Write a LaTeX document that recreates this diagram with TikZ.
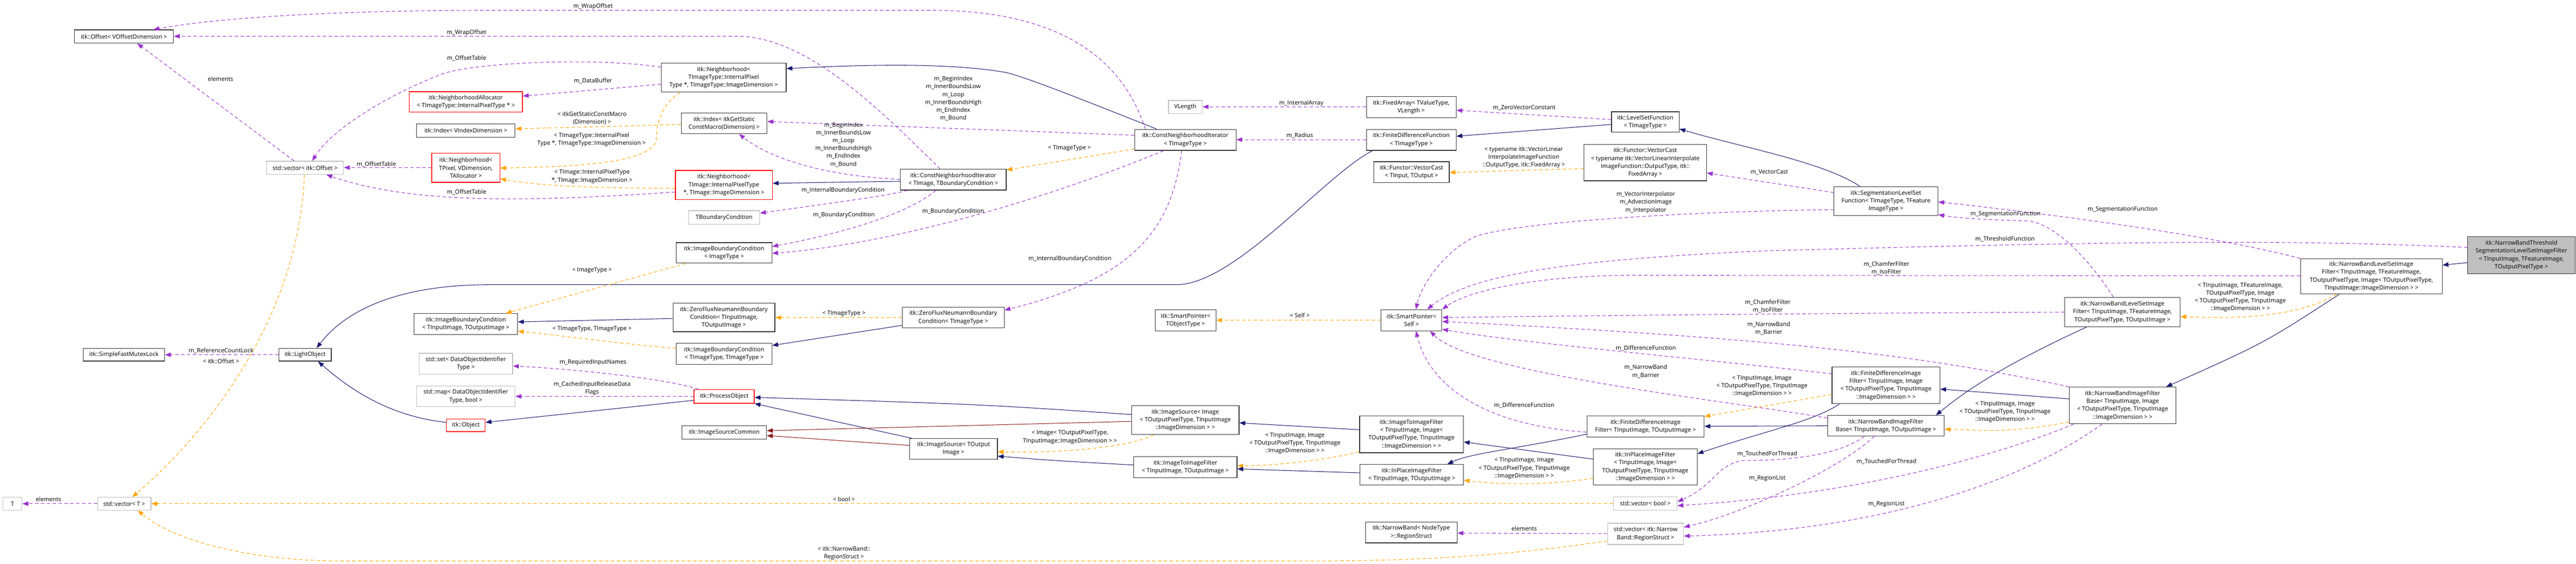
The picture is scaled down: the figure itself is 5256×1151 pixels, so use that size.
\documentclass[tikz,border=0pt]{standalone}
\usepackage{fontspec}
\setmainfont{Open Sans}
\usetikzlibrary{arrows.meta}
\definecolor{navyc}{HTML}{191970}
\definecolor{purp}{HTML}{9A32CD}
\definecolor{orng}{HTML}{FFA500}
\definecolor{dred}{HTML}{8B1A1A}
\newcommand\cb[7]{\node[#1, minimum width={(#4)-(#3)}, minimum height={(#6)-(#5)}] (#2) at ({((#3)+(#4))/2},{((#5)+(#6))/2}) {#7};}
\tikzset{
  cls/.style={draw=black!80, line width=1.3pt, fill=white, inner sep=0pt, align=center, font=\fontsize{12}{16}\selectfont},
  redb/.style={cls, draw=red},
  grayb/.style={cls, draw=black!25},
  mainb/.style={cls, fill=black!25},
  lbl/.style={inner sep=0pt, align=center, font=\fontsize{12}{16}\selectfont},
  tipx/.style={-{Triangle[length=12pt,width=9pt]}},
  inh/.style={draw=navyc, line width=1.1pt, tipx},
  prot/.style={draw=dred, line width=1.1pt, tipx},
  use/.style={draw=purp, line width=1.1pt, dash pattern=on 7pt off 5pt, tipx},
  tpl/.style={draw=orng, line width=1.1pt, dash pattern=on 7pt off 5pt, tipx},
}
\begin{document}
\begin{tikzpicture}[x=1pt,y=-1pt]
\useasboundingbox (0,0) rectangle (5256,1151);
\fill[white] (0,0) rectangle (5256,1151);
% nodes
\cb{grayb}{T}{6}{45}{1015}{1041}{T}
\cb{grayb}{vecT}{199}{308}{1015}{1041}{std::vector< T >}
\cb{cls}{off}{152}{354}{61}{88}{itk::Offset< VOffsetDimension >}
\cb{grayb}{vecoff}{544}{701}{329}{356}{std::vector< itk::Offset >}
\cb{cls}{mutex}{170}{336}{711}{737}{itk::SimpleFastMutexLock}
\cb{cls}{light}{569}{676}{711}{737}{itk::LightObject}
\cb{redb}{alloc}{835}{1066}{187}{229}{itk::NeighborhoodAllocator\\< TImageType::InternalPixelType * >}
\cb{cls}{idxV}{850}{1051}{253}{280}{itk::Index< VIndexDimension >}
\cb{redb}{nbP}{881}{1020}{313}{372}{itk::Neighborhood<\\TPixel, VDimension,\\TAllocator >}
\cb{cls}{ibcIO}{845}{1056}{640}{683}{itk::ImageBoundaryCondition\\< TInputImage, TOutputImage >}
\cb{grayb}{set}{855}{1046}{721}{764}{std::set< DataObjectIdentifier\\Type >}
\cb{grayb}{map}{850}{1051}{788}{830}{std::map< DataObjectIdentifier\\Type, bool >}
\cb{redb}{obj}{911}{990}{855}{881}{itk::Object}
\cb{cls}{nbT}{1349}{1604}{129}{188}{itk::Neighborhood<\\TImageType::InternalPixel\\Type *, TImageType::ImageDimension >}
\cb{cls}{idxS}{1390}{1565}{231}{273}{itk::Index< itkGetStatic\\ConstMacro(Dimension) >}
\cb{redb}{nbI}{1378}{1576}{348}{407}{itk::Neighborhood<\\TImage::InternalPixelType\\*, TImage::ImageDimension >}
\cb{grayb}{tbc}{1405}{1550}{430}{458}{TBoundaryCondition}
\cb{cls}{ibcI}{1380}{1575}{495}{537}{itk::ImageBoundaryCondition\\< ImageType >}
\cb{cls}{zfIO}{1373}{1581}{619}{677}{itk::ZeroFluxNeumannBoundary\\Condition< TInputImage,\\TOutputImage >}
\cb{cls}{ibcTT}{1380}{1575}{701}{744}{itk::ImageBoundaryCondition\\< TImageType, TImageType >}
\cb{redb}{proc}{1416}{1539}{795}{823}{itk::ProcessObject}
\cb{cls}{isc}{1391}{1564}{869}{896}{itk::ImageSourceCommon}
\cb{cls}{cniB}{1837}{2053}{345}{388}{itk::ConstNeighborhoodIterator\\< TImage, TBoundaryCondition >}
\cb{cls}{zfT}{1841}{2049}{627}{669}{itk::ZeroFluxNeumannBoundary\\Condition< TImageType >}
\cb{cls}{isO}{1856}{2035}{895}{937}{itk::ImageSource< TOutput\\Image >}
\cb{grayb}{vlen}{2384}{2453}{205}{232}{VLength}
\cb{cls}{cniT}{2315}{2522}{264}{307}{itk::ConstNeighborhoodIterator\\< TImageType >}
\cb{cls}{spT}{2357}{2481}{632}{675}{itk::SmartPointer<\\TObjectType >}
\cb{cls}{isI}{2309}{2528}{828}{887}{itk::ImageSource< Image\\< TOutputPixelType, TInputImage\\::ImageDimension > >}
\cb{cls}{i2iO}{2313}{2524}{932}{975}{itk::ImageToImageFilter\\< TInputImage, TOutputImage >}
\cb{cls}{fa}{2788}{2971}{197}{240}{itk::FixedArray< TValueType,\\VLength >}
\cb{cls}{fdf}{2788}{2971}{264}{307}{itk::FiniteDifferenceFunction\\< TImageType >}
\cb{cls}{vcT}{2803}{2957}{330}{373}{itk::Functor::VectorCast\\< TInput, TOutput >}
\cb{cls}{spS}{2818}{2942}{632}{675}{itk::SmartPointer<\\Self >}
\cb{cls}{i2iI}{2774}{2986}{849}{924}{itk::ImageToImageFilter\\< TInputImage, Image<\\TOutputPixelType, TInputImage\\::ImageDimension > >}
\cb{cls}{ipO}{2775}{2986}{948}{990}{itk::InPlaceImageFilter\\< TInputImage, TOutputImage >}
\cb{cls}{rs}{2786}{2973}{1065}{1108}{itk::NarrowBand< NodeType\\>::RegionStruct}
\cb{cls}{lsf}{3288}{3426}{228}{270}{itk::LevelSetFunction\\< TImageType >}
\cb{cls}{vcS}{3232}{3482}{295}{369}{itk::Functor::VectorCast\\< typename itk::VectorLinearInterpolate\\ImageFunction::OutputType, itk::\\FixedArray >}
\cb{cls}{fdiO}{3238}{3477}{849}{892}{itk::FiniteDifferenceImage\\Filter< TInputImage, TOutputImage >}
\cb{cls}{ipI}{3251}{3463}{916}{990}{itk::InPlaceImageFilter\\< TInputImage, Image<\\TOutputPixelType, TInputImage\\::ImageDimension > >}
\cb{grayb}{vb}{3292}{3422}{1014}{1041}{std::vector< bool >}
\cb{grayb}{vr}{3280}{3435}{1068}{1111}{std::vector< itk::Narrow\\Band::RegionStruct >}
\cb{cls}{seg}{3742}{3954}{381}{440}{itk::SegmentationLevelSet\\Function< TImageType, TFeature\\ImageType >}
\cb{cls}{fdiI}{3738}{3958}{749}{824}{itk::FiniteDifferenceImage\\Filter< TInputImage, Image\\< TOutputPixelType, TInputImage\\::ImageDimension > >}
\cb{cls}{nbfO}{3729}{3967}{848}{890}{itk::NarrowBandImageFilter\\Base< TInputImage, TOutputImage >}
\cb{cls}{nlO}{4213}{4448}{607}{667}{itk::NarrowBandLevelSetImage\\Filter< TInputImage, TFeatureImage,\\TOutputPixelType, TOutputImage >}
\cb{cls}{nbfI}{4222}{4440}{790}{865}{itk::NarrowBandImageFilter\\Base< TInputImage, Image\\< TOutputPixelType, TInputImage\\::ImageDimension > >}
\cb{cls}{nlI}{4694}{4983}{528}{600}{itk::NarrowBandLevelSetImage\\Filter< TInputImage, TFeatureImage,\\TOutputPixelType, Image< TOutputPixelType,\\TInputImage::ImageDimension > >}
\cb{mainb}{main}{5035}{5254}{483}{559}{itk::NarrowBandThreshold\\SegmentationLevelSetImageFilter\\< TInputImage, TFeatureImage,\\TOutputPixelType >}
% edges
\draw[use] (vecoff.north -| 600,0) -- (off.south -| 280,0);
\draw[tpl] (vecoff.south -| 621,0) .. controls (612,620) and (450,860) .. (vecT.north -| 270,0);
\draw[use] (vecT) -- (T);
\draw[use] (light) -- (mutex);
\draw[inh] (obj.west |- 0,862) .. controls (800,850) and (720,800) .. (light.south -| 649,0);
\draw[inh] (fdf.south -| 2800,0) .. controls (2700,360) and (2520,581) .. (2400,581) -- (1000,581) .. controls (800,581) and (700,640) .. (light.north -| 646,0);
\draw[inh] (zfIO.west |- 0,650) -- (ibcIO.east |- 0,657);
\draw[tpl] (ibcTT.west |- 0,711) .. controls (1250,700) and (1150,685) .. (ibcIO.east |- 0,676);
\draw[tpl] (zfT.west |- 0,648) -- (zfIO.east |- 0,648);
\draw[inh] (zfT.west |- 0,664) -- (ibcTT.east |- 0,705);
\draw[tpl] (ibcI.south -| 1399,0) -- (ibcIO.north -| 1032,0);
\draw[use] (proc.north -| 1425,0) .. controls (1350,770) and (1150,752) .. (set.east |- 0,747);
\draw[use] (proc.west |- 0,809) -- (map.east |- 0,809);
\draw[inh] (proc.west |- 0,817) -- (obj.east |- 0,862);
\draw[inh] (isI.west |- 0,846) .. controls (2000,825) .. (proc.east |- 0,811);
\draw[inh] (isO.north -| 1860,0) -- (proc.south east);
\draw[prot] (isI.west |- 0,860) -- (isc.east |- 0,879);
\draw[prot] (isO.west |- 0,909) -- (isc.east |- 0,889);
\draw[tpl] (isI.south -| 2354,0) .. controls (2300,915) and (2150,925) .. (isO.east |- 0,922);
\draw[inh] (i2iO.west |- 0,949) .. controls (2150,940) .. (isO.east |- 0,931);
\draw[inh] (i2iI.west |- 0,877) -- (isI.east |- 0,863);
\draw[tpl] (i2iI.west |- 0,922) .. controls (2700,940) and (2600,950) .. (i2iO.east |- 0,951);
\draw[inh] (ipO.west |- 0,965) -- (i2iO.east |- 0,957);
\draw[inh] (ipI.west |- 0,937) -- (i2iI.east |- 0,902);
\draw[tpl] (ipI.west |- 0,976) .. controls (3150,992) and (3050,988) .. (ipO.east |- 0,980);
\draw[inh] (fdiO.west |- 0,886) .. controls (3100,915) and (3000,925) .. (ipO.north -| 2953,0);
\draw[inh] (fdiI.south -| 3753,0) .. controls (3700,860) and (3600,880) .. (ipI.east |- 0,926);
\draw[tpl] (fdiI.west |- 0,805) -- (fdiO.east |- 0,850);
\draw[inh] (nbfO.west |- 0,869) -- (fdiO.east |- 0,870);
\draw[inh] (nbfI.west |- 0,814) -- (fdiI.east |- 0,794);
\draw[tpl] (nbfI.west |- 0,861) .. controls (4100,885) and (4050,878) .. (nbfO.east |- 0,876);
\draw[inh] (nlO.south -| 4257,0) .. controls (4100,740) and (4020,790) .. (nbfO.north -| 3950,0);
\draw[inh] (nlI.south -| 4773,0) .. controls (4620,700) .. (nbfI.north -| 4420,0);
\draw[tpl] (nlI.south -| 4768,0) .. controls (4680,650) and (4560,650) .. (nlO.east |- 0,646);
\draw[inh] (main.west |- 0,536) -- (nlI.east |- 0,541);
\draw[use] (fdiO.west |- 0,882) .. controls (3050,870) and (2920,800) .. (spS.south -| 2889,0);
\draw[use] (fdiI.west |- 0,763) .. controls (3500,735) and (3100,700) .. (spS.east |- 0,672);
\draw[use] (nbfO.west |- 0,853) .. controls (3500,815) and (3000,760) .. (spS.south -| 2918,0);
\draw[use] (nbfI.north west) .. controls (3900,720) and (3600,690) .. (spS.east |- 0,656);
\draw[use] (nlO.west |- 0,637) .. controls (3600,640) and (3200,645) .. (spS.east |- 0,648);
\draw[use] (nlI.west |- 0,563) -- (3331,562) .. controls (3150,562) and (3000,590) .. (spS.north east);
\draw[use] (main.west |- 0,505) .. controls (4700,490) and (4400,490) .. (3600,512) .. controls (3200,530) and (3000,560) .. (spS.north -| 2912,0);
\draw[use] (seg.west |- 0,428) .. controls (3500,430) and (3100,450) .. (3010,483) .. controls (2950,510) and (2900,580) .. (spS.north -| 2889,0);
\draw[tpl] (spS) -- (spT);
\draw[inh] (seg.north -| 3795,0) .. controls (3720,330) and (3550,300) .. (lsf.east |- 0,263);
\draw[inh] (lsf.west |- 0,254) -- (fdf.east |- 0,278);
\draw[use] (lsf.west |- 0,244) -- (fa.east |- 0,225);
\draw[use] (seg.west |- 0,393) -- (vcS.east |- 0,353);
\draw[tpl] (vcS.west |- 0,344) -- (vcT.east |- 0,352);
\draw[use] (fa.west |- 0,218) -- (vlen.east |- 0,218);
\draw[use] (fdf.west |- 0,285) -- (cniT.east |- 0,285);
\draw[use] (nlI.north west) .. controls (4550,490) and (4300,450) .. (seg.east |- 0,412);
\draw[use] (nlO.north -| 4312,0) .. controls (4270,540) and (4200,460) .. (4140,451) .. controls (4050,448) and (4000,446) .. (seg.east |- 0,438);
\draw[use] (nbfO.south -| 3804,0) .. controls (3750,930) and (3650,940) .. (3555,940) .. controls (3500,950) and (3500,990) .. (vb.east |- 0,1024);
\draw[use] (nbfO.south -| 3824,0) .. controls (3750,960) and (3550,1050) .. (vr.east |- 0,1076);
\draw[use] (nbfI.south -| 4231,0) .. controls (4000,960) and (3700,1015) .. (vb.east |- 0,1032);
\draw[use] (nbfI.south -| 4289,0) .. controls (4100,1000) and (3800,1085) .. (vr.east |- 0,1094);
\draw[use] (vr.west |- 0,1089) -- (rs.east |- 0,1088);
\draw[tpl] (vr.west |- 0,1104) .. controls (3000,1145) and (2800,1145) .. (2600,1145) -- (700,1145) .. controls (500,1145) and (350,1100) .. (vecT.south -| 281,0);
\draw[tpl] (vb.west |- 0,1028) -- (vecT.east |- 0,1028);
\draw[use] (cniT.north -| 2337,0) .. controls (2300,150) and (2200,21) .. (1900,21) -- (1000,21) .. controls (700,21) and (450,35) .. (off.north -| 313,0);
\draw[use] (cniB.north -| 1918,0) .. controls (1800,230) and (1650,74) .. (1503,74) -- (off.east |- 0,74);
\draw[use] (nbT.west |- 0,137) .. controls (1200,115) and (950,130) .. (900,152) .. controls (800,190) and (680,260) .. (vecoff.north -| 637,0);
\draw[use] (nbI.west |- 0,392) .. controls (1100,410) and (850,420) .. (vecoff.south -| 666,0);
\draw[use] (nbP.west |- 0,342) -- (vecoff.east |- 0,342);
\draw[use] (nbT.west |- 0,172) -- (alloc.east |- 0,196);
\draw[tpl] (nbT.south -| 1388,0) .. controls (1345,215) and (1339,260) .. (1339,289) .. controls (1320,330) and (1200,340) .. (nbP.east |- 0,343);
\draw[tpl] (nbI.west |- 0,384) .. controls (1250,385) and (1100,380) .. (nbP.east |- 0,365);
\draw[tpl] (idxS.west |- 0,254) -- (idxV.east |- 0,263);
\draw[inh] (cniT.north -| 2360,0) .. controls (2200,200) and (2100,160) .. (2053,148) .. controls (1950,130) and (1800,130) .. (nbT.east |- 0,140);
\draw[inh] (cniB.west |- 0,370) -- (nbI.east |- 0,374);
\draw[use] (cniT.west |- 0,276) -- (idxS.east |- 0,248);
\draw[use] (cniB.west |- 0,366) .. controls (1700,360) and (1580,330) .. (idxS.south -| 1508,0);
\draw[use] (cniB.south -| 1852,0) .. controls (1800,400) .. (tbc.east |- 0,435);
\draw[use] (cniB.south -| 1909,0) .. controls (1850,440) and (1700,480) .. (ibcI.east |- 0,503);
\draw[use] (cniT.south -| 2374,0) .. controls (2100,420) and (1800,500) .. (ibcI.east |- 0,517);
\draw[use] (cniT.south -| 2411,0) .. controls (2390,480) and (2300,570) .. (zfT.east |- 0,633);
\draw[tpl] (cniT.west |- 0,304) -- (cniB.east |- 0,347);
% labels
\node[lbl] (l1) at (450,161) {elements};
\node[lbl] (l2) at (768,335) {m\_OffsetTable};
\node[lbl] (l3) at (451,716) {m\_ReferenceCountLock};
\node[lbl] (l4) at (451,737) {< itk::Offset >};
\node[lbl] (l5) at (99,1019) {elements};
\node[lbl] (l6) at (1210,13) {m\_WrapOffset};
\node[lbl] (l7) at (952,67) {m\_WrapOffset};
\node[lbl] (l8) at (952,119) {m\_OffsetTable};
\node[lbl] (l9) at (1210,165) {m\_DataBuffer};
\node[lbl] (l10) at (1208,241) {< itkGetStaticConstMacro\\(Dimension) >};
\node[lbl] (l11) at (1207,285) {< TImageType::InternalPixel\\Type *, TImageType::ImageDimension >};
\node[lbl] (l12) at (1208,360) {< TImage::InternalPixelType\\*, TImage::ImageDimension >};
\node[lbl] (l13) at (952,392) {m\_OffsetTable};
\node[lbl] (l14) at (1721,295) {m\_BeginIndex\\m\_InnerBoundsLow\\m\_Loop\\m\_InnerBoundsHigh\\m\_EndIndex\\m\_Bound};
\node[lbl] (l15) at (1720,388) {m\_InternalBoundaryCondition};
\node[lbl] (l16) at (1722,439) {m\_BoundaryCondition};
\node[lbl] (l17) at (1208,552) {< ImageType >};
\node[lbl] (l18) at (1208,671) {< TImageType, TImageType >};
\node[lbl] (l19) at (1210,740) {m\_RequiredInputNames};
\node[lbl] (l20) at (1208,793) {m\_CachedInputReleaseData\\Flags};
\node[lbl] (l21) at (1722,1019) {< bool >};
\node[lbl] (l22) at (1722,1129) {< itk::NarrowBand::\\RegionStruct >};
\node[lbl] (l23) at (1722,640) {< TImageType >};
\node[lbl] (l24) at (1945,201) {m\_BeginIndex\\m\_InnerBoundsLow\\m\_Loop\\m\_InnerBoundsHigh\\m\_EndIndex\\m\_Bound};
\node[lbl] (l25) at (2182,303) {< TImageType >};
\node[lbl] (l26) at (1945,432) {m\_BoundaryCondition};
\node[lbl] (l27) at (2183,528) {m\_InternalBoundaryCondition};
\node[lbl] (l28) at (2652,277) {m\_Radius};
\node[lbl] (l29) at (2655,211) {m\_InternalArray};
\node[lbl] (l30) at (2652,644) {< Self >};
\node[lbl] (l31) at (2183,892) {< Image< TOutputPixelType,\\TInputImage::ImageDimension > >};
\node[lbl] (l32) at (2642,905) {< TInputImage, Image\\< TOutputPixelType, TInputImage\\::ImageDimension > >};
\node[lbl] (l33) at (3110,220) {m\_ZeroVectorConstant};
\node[lbl] (l34) at (3109,321) {< typename itk::VectorLinear\\InterpolateImageFunction\\::OutputType, itk::FixedArray >};
\node[lbl] (l35) at (3358,413) {m\_VectorInterpolator\\m\_AdvectionImage\\m\_Interpolator};
\node[lbl] (l36) at (3610,351) {m\_VectorCast};
\node[lbl] (l37) at (3358,711) {m\_DifferenceFunction};
\node[lbl] (l38) at (3358,758) {m\_NarrowBand\\m\_Barrier};
\node[lbl] (l39) at (3110,827) {m\_DifferenceFunction};
\node[lbl] (l40) at (3110,956) {< TInputImage, Image\\< TOutputPixelType, TInputImage\\::ImageDimension > >};
\node[lbl] (l41) at (3110,1079) {elements};
\node[lbl] (l42) at (4331,427) {m\_SegmentationFunction};
\node[lbl] (l43) at (4092,437) {m\_SegmentationFunction};
\node[lbl] (l44) at (4091,488) {m\_ThresholdFunction};
\node[lbl] (l45) at (3849,547) {m\_ChamferFilter\\m\_IsoFilter};
\node[lbl] (l46) at (3607,625) {m\_ChamferFilter\\m\_IsoFilter};
\node[lbl] (l47) at (3609,670) {m\_NarrowBand\\m\_Barrier};
\node[lbl] (l48) at (3595,788) {< TInputImage, Image\\< TOutputPixelType, TInputImage\\::ImageDimension > >};
\node[lbl] (l49) at (3606,926) {m\_TouchedForThread};
\node[lbl] (l50) at (3606,976) {m\_RegionList};
\node[lbl] (l51) at (4091,841) {< TInputImage, Image\\< TOutputPixelType, TInputImage\\::ImageDimension > >};
\node[lbl] (l52) at (3849,942) {m\_TouchedForThread};
\node[lbl] (l53) at (3849,1029) {m\_RegionList};
\node[lbl] (l54) at (4571,607) {< TInputImage, TFeatureImage,\\TOutputPixelType, Image\\< TOutputPixelType, TInputImage\\::ImageDimension > >};
\end{tikzpicture}
\end{document}
